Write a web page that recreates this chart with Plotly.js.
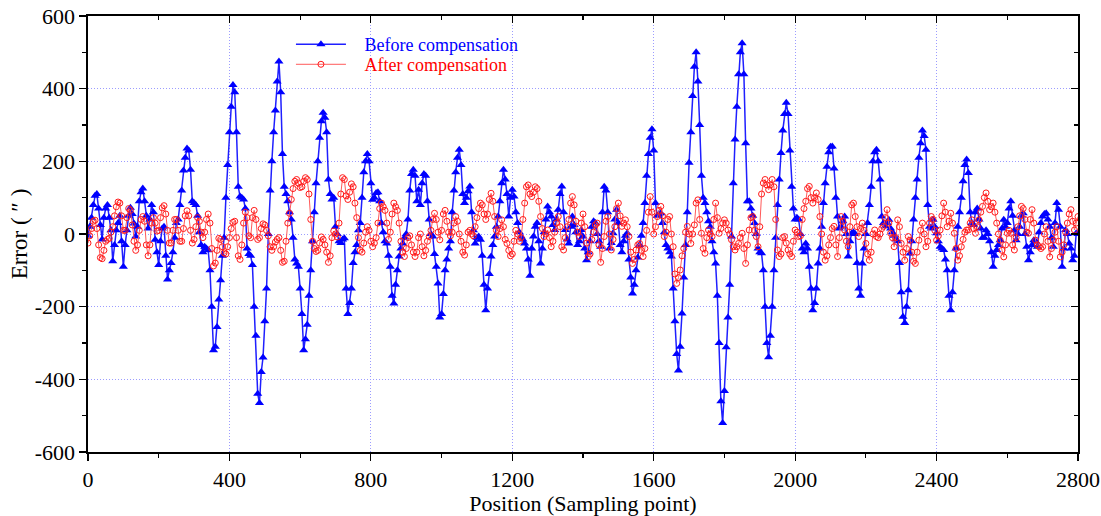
<!DOCTYPE html>
<html>
<head>
<meta charset="utf-8">
<script src="https://cdn.plot.ly/plotly-3.0.1.min.js"></script>
<style>html,body{margin:0;padding:0;background:#fff;}#chart{width:1101px;height:516px;}</style>
</head>
<body>
<div id="chart"></div>
<script>
// Sampling positions (every 5 points, 0..2800)
const positions = Array.from({length: 561}, (_, i) => i * 5);

// Error before compensation (arc-seconds); one row = 100 sampling points
const beforeComp = [
 -5,20,45,80,105,110,70,25,-15,45,70,80,45,10,-75,-30,10,30,50,-20,
 -90,-30,10,50,72,55,29,-7,20,90,115,125,90,50,15,40,80,60,-16,-50,
 -85,-20,15,20,-60,-125,-100,-80,-50,-10,30,40,80,120,175,210,235,230,177,90,
 85,80,50,5,-30,-50,-35,-40,-45,-100,-200,-320,-310,-256,-180,-127,-60,-10,100,190,
 280,350,410,390,280,130,103,100,95,70,-40,-55,-60,-85,-200,-280,-440,-465,-380,-340,
 -240,-150,0,120,200,280,340,420,475,390,220,130,110,90,60,40,-10,-70,-81,-90,
 -150,-220,-320,-290,-250,-170,-100,-20,60,140,200,265,310,334,320,280,150,110,95,100,
 20,0,-20,-25,-15,-12,-150,-220,-190,-150,-80,-50,-30,10,30,100,170,200,220,200,
 140,94,100,113,115,90,30,5,-20,-26,-60,-90,-170,-191,-140,-100,-62,-40,-26,-10,
 0,40,120,165,177,160,90,122,80,140,165,160,90,40,0,-7,-55,-90,-136,-230,
 -220,-165,-100,-70,-40,-20,60,120,170,210,232,190,110,85,100,118,131,60,10,-26,
 -10,-7,-16,-60,-140,-210,-150,-110,-62,-30,-7,20,48,90,140,177,150,110,48,100,
 122,103,60,30,5,-7,-15,-26,-40,-70,-115,-40,-7,20,30,-20,-81,-40,5,40,
 76,60,48,25,11,40,67,110,131,60,11,-15,-26,20,48,25,5,-30,-20,11,
 -7,-40,-72,-50,-20,20,35,30,0,-20,-35,60,130,120,60,-40,-25,2,40,67,
 30,-30,-50,-20,-5,2,-70,-120,-164,-140,-100,-65,-30,-5,30,85,160,220,265,288,
 230,85,50,55,57,30,5,-30,-40,-50,-62,-150,-240,-330,-376,-310,-219,-120,-30,60,
 196,280,380,460,500,420,300,160,100,85,60,35,20,-20,-50,-81,-170,-300,-460,-520,
 -432,-312,-230,-140,-7,140,260,350,440,500,525,440,250,90,90,70,50,30,0,-40,
 -50,-53,-100,-200,-300,-339,-280,-200,-100,-10,80,150,223,285,330,361,330,230,130,70,
 40,45,40,0,-40,-50,-26,-40,-90,-150,-210,-190,-150,-81,-40,20,85,140,185,225,
 240,241,180,100,48,15,20,35,48,0,-62,-20,2,5,0,-80,-150,-170,-81,-40,
 0,30,80,130,200,225,232,200,150,48,30,21,30,39,15,5,-5,-15,-20,-80,
 -160,-228,-245,-200,-155,-54,-20,40,100,150,210,250,285,270,232,80,20,15,39,20,
 2,-20,-35,-40,-44,-70,-100,-170,-210,-160,-100,-40,20,60,100,145,190,205,168,60,
 30,25,60,70,40,15,-10,-10,10,0,-20,-50,-90,-60,-44,-30,-17,15,39,20,
 30,70,90,50,10,-17,0,20,50,57,0,-35,-72,-50,-30,-17,-20,-35,5,30,
 48,55,57,40,20,-10,-35,30,85,67,20,-90,-40,11,0,-26,-40,-72,-60,2,
 0
];

// Error after compensation (arc-seconds); one row = 100 sampling points
const afterComp = [
 -25,-5,15,35,38,15,-30,-65,-68,-45,-20,-15,-12,5,20,50,75,88,85,50,
 10,10,45,70,65,25,-20,-45,-30,10,40,48,35,-30,-60,-30,30,45,30,8,
 10,45,72,78,55,10,-25,-25,10,40,40,10,-20,-20,15,50,64,50,10,-25,
 -15,20,45,35,5,-10,5,40,55,30,-40,-88,-80,-45,-12,-15,-35,-52,-55,-35,
 -10,15,32,35,-10,-60,-70,-30,30,60,45,-5,-10,45,65,40,-15,-10,15,28,
 25,10,-5,-35,-45,-35,-22,-15,-10,-45,-78,-75,-20,30,57,95,125,145,150,140,
 128,130,145,155,150,110,40,-20,-40,-48,-45,-25,-8,-15,-30,-50,-78,-60,-10,8,
 0,-8,30,110,155,150,105,95,115,138,130,85,45,-10,-45,-50,-25,5,20,10,
 -20,-35,-25,-10,30,70,85,75,65,30,-15,5,55,85,75,65,30,-20,-50,-62,
 -40,-10,-5,-30,-50,-62,-50,-10,0,-35,-60,-45,-20,-7,10,40,57,40,5,-16,
 10,55,65,35,5,-5,5,30,48,35,0,-20,-50,-58,-30,5,10,0,-5,20,
 45,70,85,80,55,40,55,95,112,90,48,10,-7,15,39,20,-15,-26,-45,-60,
 -55,-20,10,0,-20,-10,40,85,130,135,110,103,115,130,125,90,48,15,-7,0,
 11,-10,-35,-20,5,30,48,20,-35,-44,-10,20,40,85,103,80,35,5,-7,30,
 55,20,-25,-62,-55,-15,5,25,30,-30,-78,-40,-7,35,48,0,-44,-15,20,70,
 85,50,21,30,39,20,-7,-50,-81,-70,-44,-30,-26,-45,-62,-40,10,60,103,60,
 0,20,48,65,76,50,-7,5,40,48,0,-35,-110,-136,-120,-99,-60,-40,5,21,
 0,-26,0,25,85,94,40,2,-40,-53,-10,11,0,-7,40,85,45,2,15,30,
 39,30,11,0,-16,-35,-44,-35,-26,-10,2,-40,-81,-30,11,45,48,10,-7,-35,
 20,110,140,150,135,122,135,150,130,40,-44,-62,-55,-10,-7,-25,-44,-55,-62,-20,
 11,5,-7,-5,40,70,90,125,131,100,85,100,113,95,48,0,-50,-72,-60,-30,
 -10,15,21,-30,-62,-10,48,35,11,-20,-35,20,80,85,48,20,-7,15,30,10,
 -26,-55,-72,-50,0,11,-7,-10,0,15,21,45,67,30,2,-10,-35,-10,39,20,
 -26,-50,-72,-40,-7,-17,-50,-75,-81,-50,-17,10,30,0,-35,-20,30,48,40,10,
 -17,-5,11,50,85,60,20,35,57,30,2,-40,-72,-60,-35,-15,5,11,11,30,
 39,15,2,20,39,60,76,100,113,90,67,75,85,60,30,0,-17,-45,-63,-30,
 2,10,2,-30,-44,-10,20,50,76,70,40,5,2,40,67,30,-17,-30,-35,-40,
 -35,0,20,-20,-63,-40,-17,5,20,-20,-63,-50,-30,5,30,55,67,35,11,30,
 48
];

const xTicks = [0,400,800,1200,1600,2000,2400,2800];
const yTicks = [-600,-400,-200,0,200,400,600];

const serif = "'Liberation Serif', 'Times New Roman', serif";
const pad = '&nbsp;&nbsp;&nbsp;';

const traces = [
  {
    x: positions, y: beforeComp, type: 'scatter', mode: 'lines+markers',
    name: pad + '<span style="color:#0000ff">Before compensation</span>',
    legend: 'legend',
    line: {color: '#1f1fff', width: 1.5},
    marker: {symbol: 'triangle-up', size: 8, color: '#0000ff', line: {width: 0}}
  },
  {
    x: positions, y: afterComp, type: 'scatter', mode: 'lines+markers',
    name: pad + '<span style="color:#ff0000">After compensation</span>',
    legend: 'legend2',
    line: {color: '#ff5a5a', width: 1},
    marker: {symbol: 'circle-open', size: 6, color: '#ff1a1a', line: {width: 1}}
  },
  { x: [], y: [], xaxis: 'x2', yaxis: 'y2', showlegend: false, hoverinfo: 'skip', type: 'scatter' }
];

const legendBase = {
  xanchor: 'left', yanchor: 'top', bgcolor: 'rgba(0,0,0,0)',
  font: {family: serif, size: 18}, itemwidth: 50
};

const gridStyle = {showgrid: true, gridcolor: '#9c9cff', griddash: '1px,2px', gridwidth: 1};

const layout = {
  width: 1101, height: 516,
  margin: {l: 88, r: 23, t: 16, b: 64},
  paper_bgcolor: '#fff', plot_bgcolor: '#fff',
  font: {family: serif, size: 22, color: '#000'},
  showlegend: true,
  legend: Object.assign({x: 0.205, y: 0.977}, legendBase),
  legend2: Object.assign({x: 0.205, y: 0.931}, legendBase),
  xaxis: Object.assign({
    range: [0, 2800], tickvals: xTicks, ticktext: xTicks.map(String),
    ticks: 'outside', ticklen: 7, tickwidth: 1.2, tickcolor: '#000',
    showline: true, linecolor: '#000', linewidth: 1.6,
    zeroline: false,
    minor: {dtick: 200, tick0: 0, ticks: 'outside', ticklen: 4, tickcolor: '#000', showgrid: false},
    title: {text: 'Position (Sampling point)', font: {family: serif, size: 22}, standoff: 4},
    tickfont: {family: serif, size: 22}
  }, gridStyle),
  yaxis: Object.assign({
    range: [-600, 600], tickvals: yTicks, ticktext: yTicks.map(String),
    ticks: 'outside', ticklen: 7, tickwidth: 1.2, tickcolor: '#000',
    showline: true, linecolor: '#000', linewidth: 1.6,
    zeroline: false,
    minor: {dtick: 100, tick0: 0, ticks: 'outside', ticklen: 4, tickcolor: '#000', showgrid: false},
    title: {text: 'Error ( ″ )', font: {family: serif, size: 23}, standoff: 0},
    tickfont: {family: serif, size: 22}
  }, gridStyle),
  xaxis2: {
    overlaying: 'x', side: 'top', anchor: 'y2', range: [0, 2800],
    tickvals: xTicks, showticklabels: false,
    ticks: 'inside', ticklen: 7, tickcolor: '#000', tickwidth: 1.2,
    showline: true, linecolor: '#000', linewidth: 1.6, showgrid: false, zeroline: false,
    minor: {dtick: 200, tick0: 0, ticks: 'inside', ticklen: 4, tickcolor: '#000', showgrid: false}
  },
  yaxis2: {
    overlaying: 'y', side: 'right', anchor: 'x2', range: [-600, 600],
    tickvals: yTicks, showticklabels: false,
    ticks: 'inside', ticklen: 7, tickcolor: '#000', tickwidth: 1.2,
    showline: true, linecolor: '#000', linewidth: 1.6, showgrid: false, zeroline: false,
    minor: {dtick: 100, tick0: 0, ticks: 'inside', ticklen: 4, tickcolor: '#000', showgrid: false}
  }
};

Plotly.newPlot('chart', traces, layout, {displayModeBar: false, staticPlot: true});
</script>
</body>
</html>
